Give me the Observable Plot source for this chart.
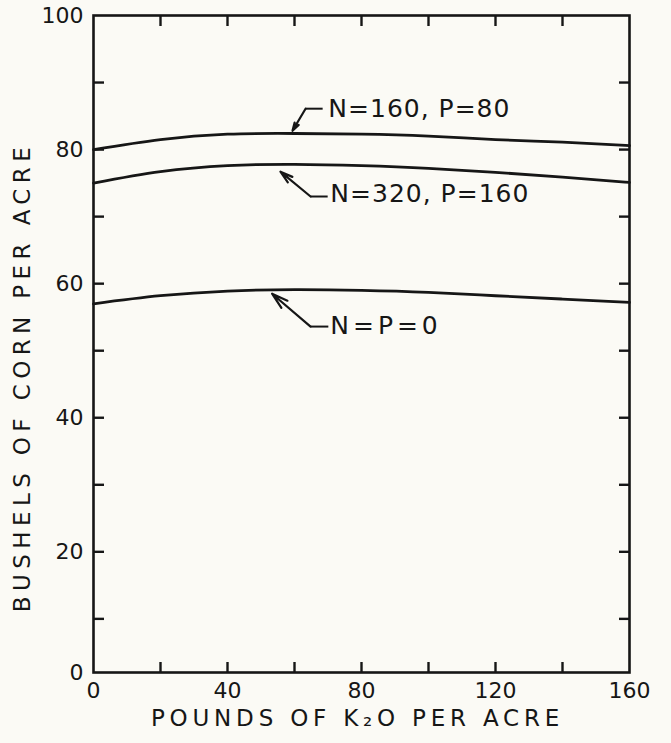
<!DOCTYPE html>
<html>
<head>
<meta charset="utf-8">
<script src="https://cdn.jsdelivr.net/npm/d3@7"></script>
<script src="https://cdn.jsdelivr.net/npm/@observablehq/plot@0.6"></script>
<style>
  html, body { margin: 0; padding: 0; background: #fbfaf5; }
  #chart svg { display: block; }
</style>
</head>
<body>
<div id="chart"></div>
<script>
// ---- data ----
const k2o = [0, 20, 40, 60, 80, 100, 120, 140, 160];
const yieldN160P80  = [80.0, 81.5, 82.3, 82.4, 82.3, 82.0, 81.5, 81.1, 80.6];
const yieldN320P160 = [75.0, 76.7, 77.6, 77.8, 77.6, 77.2, 76.6, 75.9, 75.1];
const yieldN0P0     = [57.0, 58.2, 58.9, 59.1, 59.0, 58.7, 58.2, 57.7, 57.2];
const seriesNames = ["N=160, P=80", "N=320, P=160", "N = P = 0"];

const xTickLabels = [0, 40, 80, 120, 160];
const xFrameTicks = [20, 40, 60, 80, 100, 120, 140];
const yTickLabels = [0, 20, 40, 60, 80, 100];
const yFrameTicks = [10, 20, 30, 40, 50, 60, 70, 80, 90];

const xTitle = "POUNDS OF K₂O PER ACRE";
const yTitle = "BUSHELS OF CORN PER ACRE";

// annotation anchors (data units): label start, leader start, elbow, arrow tip
const labelX   = [70.1, 70.7, 70.7];
const labelY   = [86.1, 73.4, 53.7];
const leadX1   = [68.4, 69.9, 70.1];
const leadY1   = [86.1, 73.0, 53.6];
const elbowX   = [63.3, 64.8, 64.8];
const tipX     = [59.4, 55.8, 53.3];
const tipY     = [82.8, 76.7, 58.5];

// ---- tables built from arrays ----
const series = [yieldN160P80, yieldN320P160, yieldN0P0];
const rows = series.flatMap((vals, s) => k2o.map((x, i) => ({x, y: vals[i], s: seriesNames[s]})));
const notes = seriesNames.map((name, i) => ({
  name, lx: labelX[i], ly: labelY[i], x1: leadX1[i], y1: leadY1[i],
  ex: elbowX[i], tx: tipX[i], ty: tipY[i]
}));

const ink = "#161616";
const font = "DejaVu Sans";

const chart = Plot.plot({
  width: 671,
  height: 743,
  marginLeft: 93,
  marginRight: 42,
  marginTop: 15,
  marginBottom: 71,
  style: {background: "#fbfaf5", fontFamily: font, color: ink},
  x: {domain: [0, 160]},
  // the drawn frame bottom sits slightly above 0 in the original; 0 label is pinned to it
  y: {domain: [2, 100], clamp: true},
  marks: [
    // inward frame ticks
    Plot.axisX(xFrameTicks, {anchor: "bottom", tickSize: -10, tickFormat: () => "", strokeWidth: 2.4, stroke: ink}),
    Plot.axisX(xFrameTicks, {anchor: "top", tickSize: -10, tickFormat: () => "", strokeWidth: 2.4, stroke: ink}),
    Plot.axisY(yFrameTicks, {anchor: "left", tickSize: -11, tickFormat: () => "", strokeWidth: 2.4, stroke: ink}),
    Plot.axisY(yFrameTicks, {anchor: "right", tickSize: -11, tickFormat: () => "", strokeWidth: 2.4, stroke: ink}),
    // tick labels
    Plot.axisX(xTickLabels, {anchor: "bottom", tickSize: 0, tickPadding: 10, fontSize: 22, fill: ink, label: null}),
    Plot.axisY(yTickLabels, {anchor: "left", tickSize: 0, tickPadding: 10, fontSize: 22, fill: ink, label: null}),
    // frame
    Plot.frame({stroke: ink, strokeWidth: 2.6}),
    // curves
    Plot.line(rows, {x: "x", y: "y", z: "s", curve: "natural", stroke: ink, strokeWidth: 2.8}),
    // annotation leaders
    Plot.link(notes, {x1: "x1", y1: "y1", x2: "ex", y2: "y1", stroke: ink, strokeWidth: 2}),
    Plot.arrow(notes, {x1: "ex", y1: "y1", x2: "tx", y2: "ty", stroke: ink, strokeWidth: 2.2, headLength: 12, headAngle: 32}),
    Plot.text(notes, {x: "lx", y: "ly", text: "name", textAnchor: "start", lineAnchor: "middle", fontSize: 25, fill: ink}),
    // axis titles
    Plot.text([xTitle], {frameAnchor: "bottom", text: d => d, dy: 46, dx: -4, fontSize: 23, fill: ink, textAnchor: "middle", lineAnchor: "middle"}),
    Plot.text([yTitle], {frameAnchor: "left", text: d => d, rotate: -90, dx: -71, dy: 33, fontSize: 23, fill: ink, textAnchor: "middle", lineAnchor: "middle"})
  ]
});

document.getElementById("chart").appendChild(chart);
const svg = d3.select(chart);
svg.selectAll("text").filter(function () { return this.textContent === xTitle; }).attr("letter-spacing", "4.8px");
svg.selectAll("text").filter(function () { return this.textContent === yTitle; }).attr("letter-spacing", "5.4px");
svg.selectAll("text").filter(function () { return seriesNames.includes(this.textContent); })
  .attr("letter-spacing", "1px")
  .filter(function () { return this.textContent.includes(" = "); })
  .attr("letter-spacing", "0px").attr("word-spacing", "-4px");
</script>
</body>
</html>
